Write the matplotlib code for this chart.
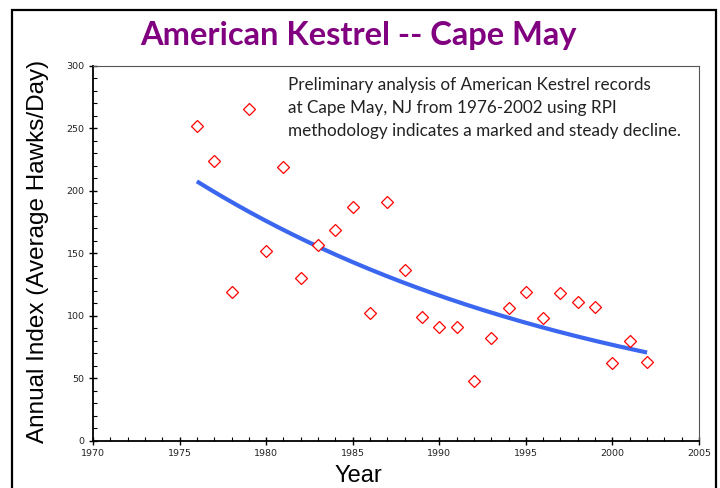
import numpy as np
import matplotlib
matplotlib.use("Agg")
import matplotlib.pyplot as plt
from matplotlib.patches import Rectangle
from matplotlib.ticker import MultipleLocator

years = [1976, 1977, 1978, 1979, 1980, 1981, 1982, 1983, 1984, 1985, 1986, 1987, 1988,
         1989, 1990, 1991, 1992, 1993, 1994, 1995, 1996, 1997, 1998, 1999, 2000, 2001, 2002]
index_vals = [252, 224, 119, 265, 152, 219, 130, 157, 169, 187, 102, 191, 137,
              99, 91, 91, 48, 82, 106, 119, 98, 118, 111, 107, 62, 80, 63]

title = "American Kestrel -- Cape May"
note = ("Preliminary analysis of American Kestrel records\n"
        "at Cape May, NJ from 1976-2002 using RPI\n"
        "methodology indicates a marked and steady decline.")

fig = plt.figure(figsize=(7.2, 4.88), dpi=100)
fig.patch.set_facecolor("white")

# outer frame
fig.patches.append(Rectangle((12/720, -0.05), (716-12)/720, 1.05 - 10/488,
                             transform=fig.transFigure, fill=False,
                             edgecolor="black", linewidth=1.6))

ax = fig.add_axes([93/720, 1-441/488, (699-93)/720, (441-65.7)/488])

yr = np.array(years, dtype=float)
v = np.array(index_vals, dtype=float)
b, a = np.polyfit(yr - yr[0], np.log(v), 1)
xs = np.linspace(yr[0], yr[-1], 200)
ax.plot(xs, np.exp(a + b*(xs - yr[0])), color="#3a66f0", lw=3.0, solid_capstyle="butt", zorder=2)

ax.plot(years, index_vals, linestyle="none", marker="D", markersize=6.4,
        markerfacecolor="white", markeredgecolor="#ff0000", markeredgewidth=0.9, zorder=3)

ax.set_xlim(1970, 2005)
ax.set_ylim(0, 300)
ax.xaxis.set_major_locator(MultipleLocator(5))
ax.xaxis.set_minor_locator(MultipleLocator(1))
ax.yaxis.set_major_locator(MultipleLocator(50))
ax.yaxis.set_minor_locator(MultipleLocator(10))
ax.tick_params(which="major", direction="inout", length=6, width=1.0, color="black",
               labelsize=6.8, labelcolor="#222222", pad=3)
ax.tick_params(which="minor", direction="in", length=3, width=0.8, color="black")
ax.tick_params(axis="x", which="major", pad=3)
for lab in ax.get_xticklabels() + ax.get_yticklabels():
    lab.set_fontfamily("DejaVu Sans")

for s in ["left", "bottom"]:
    ax.spines[s].set_color("black")
    ax.spines[s].set_linewidth(1.3)
for s in ["top", "right"]:
    ax.spines[s].set_color("#555555")
    ax.spines[s].set_linewidth(0.8)

fig.text(358/720, 1-35/488, title, ha="center", va="center", color="#800080",
         fontsize=23.5, fontweight="bold", fontfamily="Lato")

fig.text(38/720, 1-251/488, "Annual Index (Average Hawks/Day)", rotation=90,
         ha="center", va="center", fontsize=17.5, fontfamily="Liberation Sans", color="black")
fig.text(358/720, 1-476/488, "Year", ha="center", va="center", fontsize=17,
         fontfamily="Liberation Sans", color="black")

fig.text(288/720, 1-77/488, note, ha="left", va="top",
         fontsize=12.3, fontfamily="Lato", color="#222222", linespacing=1.52)

fig.savefig("out.png", dpi=100, facecolor="white")
